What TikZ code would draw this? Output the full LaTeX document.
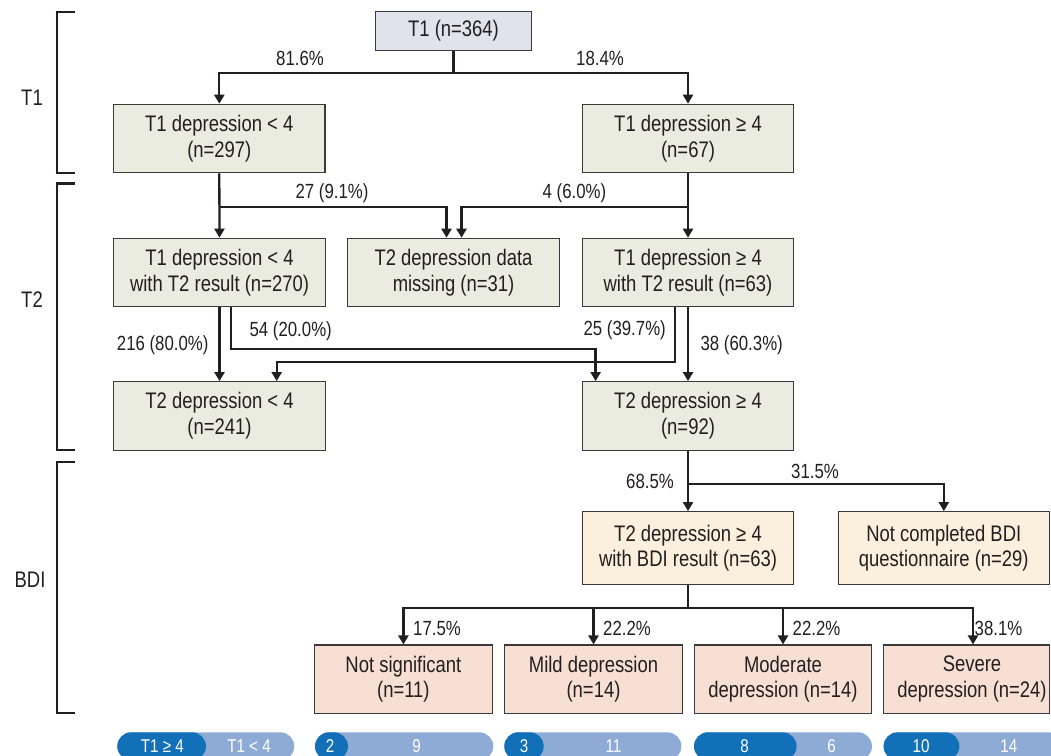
\documentclass[tikz,border=0pt]{standalone}
\usepackage{fontspec}
\setmainfont{Liberation Sans}[FakeStretch=0.82]
\usetikzlibrary{arrows.meta,calc}
\definecolor{ink}{HTML}{231F20}
\definecolor{bordc}{HTML}{3A3A3A}
\definecolor{lav}{HTML}{E0E2EC}
\definecolor{grn}{HTML}{E9ECDE}
\definecolor{bge}{HTML}{FAF0DD}
\definecolor{pnk}{HTML}{F7DFD3}
\definecolor{pilld}{HTML}{1270B9}
\definecolor{pilll}{HTML}{8EABD6}
\newcommand\bxfont{\fontsize{22.5}{25.5}\selectfont}
\newcommand\lbfont{\fontsize{20.5}{23}\selectfont}
\newcommand\pilfont{\fontsize{18.5}{20}\selectfont}
\tikzset{
  line/.style={draw=ink, line width=2.3pt},
  arr/.style={line, -{Triangle[length=9pt,width=10pt]}},
  bx/.style={draw=bordc, line width=1.2pt, align=center, inner sep=0pt,
    minimum width=211.5pt, minimum height=68.4pt, text=ink, font=\bxfont},
  lbl/.style={text=ink, font=\lbfont, inner sep=0pt},
  side/.style={text=ink, font=\bxfont, inner sep=0pt},
  brk/.style={draw=ink, line width=2.3pt},
  ptxt/.style={text=white, font=\pilfont, inner sep=0pt},
}
\begin{document}
\begin{tikzpicture}[x=1pt,y=-1pt]
\useasboundingbox (0,0) rectangle (1051,755);

% brackets and side labels
\draw[brk] (75,12) -- (57,12) -- (57,172.7) -- (75,172.7);
\draw[brk] (75,183.5) -- (57,183.5) -- (57,450) -- (75,450);
\draw[brk] (75,462) -- (57,462) -- (57,713) -- (75,713);
\node[side] (sT1) at (32,98) {T1};
\node[side] (sT2) at (32,300) {T2};
\node[side] (sBDI) at (30,580) {BDI};

% boxes
\node[bx, fill=lav, minimum width=156pt, minimum height=39pt] (t1) at (453.5,31) {T1 (n=364)};
\node[bx, fill=grn] (a1) at (219.3,138.5) {T1 depression < 4\\(n=297)};
\node[bx, fill=grn] (b1) at (688,138.5) {T1 depression ≥ 4\\(n=67)};
\node[bx, fill=grn] (a2) at (219.5,272.5) {T1 depression < 4\\with T2 result (n=270)};
\node[bx, fill=grn] (m2) at (453.5,272.5) {T2 depression data\\missing (n=31)};
\node[bx, fill=grn] (b2) at (688,272.5) {T1 depression ≥ 4\\with T2 result (n=63)};
\node[bx, fill=grn] (a3) at (219.5,415.9) {T2 depression < 4\\(n=241)};
\node[bx, fill=grn] (b3) at (688,415.9) {T2 depression ≥ 4\\(n=92)};
\node[bx, fill=bge, minimum width=210.6pt, minimum height=72.6pt] (c4) at (688,548) {T2 depression ≥ 4\\with BDI result (n=63)};
\node[bx, fill=bge, minimum width=211pt, minimum height=72.6pt] (d4) at (943.8,548) {Not completed BDI\\questionnaire (n=29)};
\node[bx, fill=pnk, minimum width=178pt, minimum height=68.3pt] (e1) at (403.4,679.2) {Not significant\\(n=11)};
\node[bx, fill=pnk, minimum width=177.5pt, minimum height=68.3pt] (e2) at (593.5,679.2) {Mild depression\\(n=14)};
\node[bx, fill=pnk, minimum width=177pt, minimum height=68.3pt] (e3) at (783,679.2) {Moderate\\depression (n=14)};
\node[bx, fill=pnk, minimum width=165.8pt, minimum height=68.3pt] (e4) at (966.6,679.2) {};
\node[lbl, font=\bxfont, align=center] (e4t) at (972,679.2) {Severe\\depression (n=24)};

% connectors
\coordinate (j1) at (453.5,72.7);
\draw[line] (t1.south) -- (j1);
\draw[arr] (j1) -| (a1.north);
\draw[arr] (j1) -| (b1.north);

\coordinate (ya) at (0,206.7);
\draw[arr] (a1.south) -- (a2.north);
\draw[arr] (a1.south |- ya) -| ($(m2.north)+(-7,0)$);
\draw[arr] (b1.south) -- (b2.north);
\draw[arr] (b1.south |- ya) -| ($(m2.north)+(8,0)$);

\draw[arr] (a2.south) -- (a3.north);
\draw[arr] ($(a2.south)+(11.2,0)$) -- ++(0,41.6) -| ($(b3.north)+(-92.4,0)$);
\draw[arr] (b2.south) -- (b3.north);
\draw[arr] ($(b2.south)+(-13,0)$) -- ++(0,55) -| ($(a3.north)+(57.2,0)$);

\coordinate (jc) at (688,484.3);
\draw[arr] (b3.south) -- (c4.north);
\draw[arr] (jc) -| (d4.north);

\coordinate (jd) at (688,607.7);
\draw[line] (c4.south) -- (jd);
\draw[arr] (jd) -| (e1.north);
\draw[arr] (jd) -| (e2.north);
\draw[arr] (jd) -| (e3.north);
\draw[arr] (jd) -| ($(e4.north)+(6.4,0)$);

% labels
\node[lbl] (l1) at (300,58) {81.6\%};
\node[lbl] (l2) at (600,58) {18.4\%};
\node[lbl] (l3) at (332,193.3) {27 (9.1\%)};
\node[lbl] (l4) at (574.5,193.3) {4 (6.0\%)};
\node[lbl] (l5) at (162.7,345) {216 (80.0\%)};
\node[lbl] (l6) at (290.7,330.7) {54 (20.0\%)};
\node[lbl] (l7) at (624.7,330) {25 (39.7\%)};
\node[lbl] (l8) at (741.7,345) {38 (60.3\%)};
\node[lbl] (l9) at (650,481.7) {68.5\%};
\node[lbl] (l10) at (815,471.7) {31.5\%};
\node[lbl, anchor=west] (l11) at (413,628) {17.5\%};
\node[lbl, anchor=west] (l12) at (603,628) {22.2\%};
\node[lbl, anchor=west] (l13) at (792.5,628) {22.2\%};
\node[lbl, anchor=west] (l14) at (974.5,628) {38.1\%};

% pills
\begin{scope}
\clip (0,0) rectangle (1051,755);
\fill[pilll, rounded corners=14pt] (117.3,732.3) rectangle (294.3,760.3);
\fill[pilld, rounded corners=14pt] (117.3,732.3) rectangle (206,760.3);
\fill[pilll, rounded corners=14pt] (315,732.3) rectangle (493.3,760.3);
\fill[pilld, rounded corners=14pt] (315,732.3) rectangle (348,760.3);
\fill[pilll, rounded corners=14pt] (504.3,732.3) rectangle (681.4,760.3);
\fill[pilld, rounded corners=14pt] (504.3,732.3) rectangle (543.7,760.3);
\fill[pilll, rounded corners=14pt] (694,732.3) rectangle (872,760.3);
\fill[pilld, rounded corners=14pt] (694,732.3) rectangle (796.6,760.3);
\fill[pilll, rounded corners=14pt] (883.6,732.3) rectangle (1062,760.3);
\fill[pilld, rounded corners=14pt] (883.6,732.3) rectangle (959.4,760.3);
\end{scope}
\node[ptxt] (p1a) at (162.3,746) {T1 ≥ 4};
\node[ptxt] (p1b) at (249,746) {T1 < 4};
\node[ptxt] (p2a) at (330,746) {2};
\node[ptxt] (p2b) at (416.7,746) {9};
\node[ptxt] (p3a) at (524,746) {3};
\node[ptxt] (p3b) at (613.4,746) {11};
\node[ptxt] (p4a) at (744.7,746) {8};
\node[ptxt] (p4b) at (831.7,746) {6};
\node[ptxt] (p5a) at (921,746) {10};
\node[ptxt] (p5b) at (1008.8,746) {14};
\end{tikzpicture}
\end{document}
